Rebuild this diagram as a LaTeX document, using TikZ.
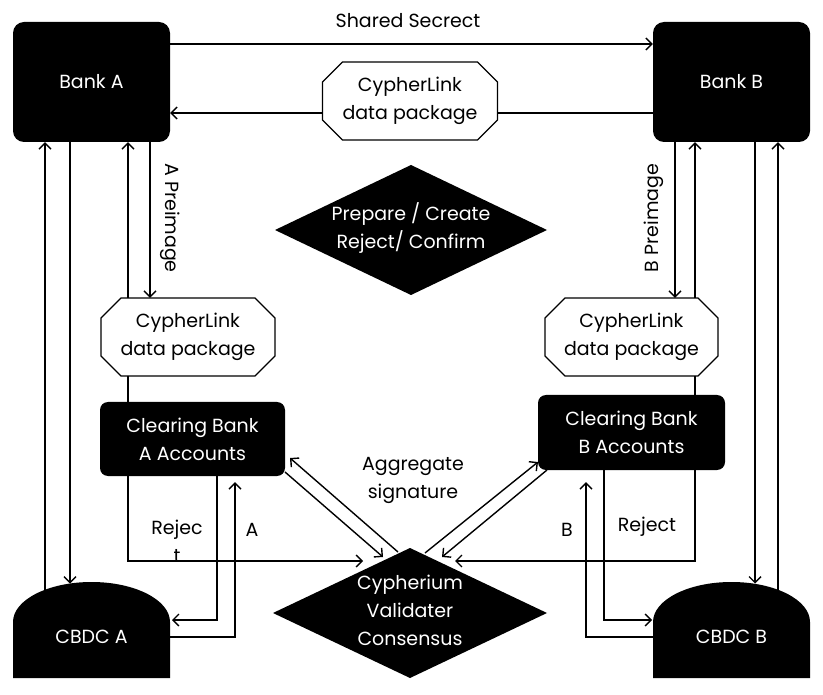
\documentclass[tikz,border=0pt]{standalone}
\usepackage{fontspec}
\setmainfont{Poppins}
\usetikzlibrary{arrows.meta,calc}
\newcommand{\octat}[4]{% center x, center y, half width, half height
  \draw[line width=1.3pt,fill=white] (#1-#3+20,#2-#4) -- (#1+#3-20,#2-#4) -- (#1+#3,#2-#4+20) -- (#1+#3,#2+#4-20)
  -- (#1+#3-20,#2+#4) -- (#1-#3+20,#2+#4) -- (#1-#3,#2+#4-20) -- (#1-#3,#2-#4+20) -- cycle;}
\begin{document}
\begin{tikzpicture}[x=1pt,y=-1pt,
  font=\fontsize{19}{28}\selectfont,
  arr/.style={-{Straight Barb[length=6pt,width=12pt]}, line width=1.4pt},
  ln/.style={line width=1.4pt},
  bank/.style={fill=black, text=white, rounded corners=11pt, minimum width=157pt, minimum height=120pt, inner sep=0},
  clr/.style={fill=black, text=white, rounded corners=8pt, align=center, inner sep=0},
  pkg/.style={align=center, inner sep=0},
  lbl/.style={inner sep=0, align=center},
  wlbl/.style={inner sep=0, align=center, text=white}]
\fill[white] (0,0) rectangle (823,695);
\useasboundingbox (0,0) rectangle (823,695);

% main nodes
\node[bank] (bankA) at (91.5,82) {Bank A};
\node[bank] (bankB) at (731.5,82) {Bank B};
\node[lbl] (ss) at (408,21) {Shared Secrect};
\octat{410}{101}{87.5}{39}
\node[pkg, minimum width=175pt, minimum height=78pt] (pkgT) at (410,101) {CypherLink\\data package};
\octat{188}{337}{87}{39}
\node[pkg, minimum width=174pt, minimum height=78pt] (pkgA) at (188,337) {CypherLink\\data package};
\octat{631.5}{337}{86.5}{39}
\node[pkg, minimum width=173pt, minimum height=78pt] (pkgB) at (631.5,337) {CypherLink\\data package};
\node[clr, minimum width=185pt, minimum height=74pt] (clrA) at (192.5,439) {Clearing Bank\\A Accounts};
\node[clr, minimum width=187pt, minimum height=75pt] (clrB) at (631.5,432.5) {Clearing Bank\\B Accounts};

% diamonds
\fill (275,230) -- (411,165) -- (547,230) -- (411,295) -- cycle;
\node[wlbl] (prep) at (411,228) {Prepare / Create\\Reject/ Confirm};
\fill (273,613) -- (410,548) -- (547,613) -- (410,678) -- cycle;
\node[wlbl] (cyp) at (410,610) {Cypherium\\Validater\\Consensus};

% CBDC shapes
\fill (13,678) -- (13,622) .. controls (13,599.9) and (48.1,582) .. (91.5,582)
  .. controls (134.9,582) and (170,599.9) .. (170,622) -- (170,678) -- cycle;
\node[wlbl] (cbdcA) at (91.5,637) {CBDC A};
\fill (653,678) -- (653,622) .. controls (653,599.9) and (688.1,582) .. (731.5,582)
  .. controls (774.9,582) and (810,599.9) .. (810,622) -- (810,678) -- cycle;
\node[wlbl] (cbdcB) at (731.5,637) {CBDC B};

% coordinates
\coordinate (dA45) at (45,590);
\coordinate (dA70) at (70,583.5);
\coordinate (dB755) at (755,583.5);
\coordinate (dB778) at (778,590);
\coordinate (cypL) at (363,561);
\coordinate (cypR) at (455,561);
\coordinate (cAr1) at (172,620);
\coordinate (cAr2) at (170,637);
\coordinate (cBl1) at (652,620);
\coordinate (cBl2) at (653,637);
\coordinate (a1s) at (285,472);
\coordinate (a1e) at (383,557);
\coordinate (a2s) at (398,552);
\coordinate (a2e) at (290,458);
\coordinate (b1s) at (547,470);
\coordinate (b1e) at (442,557);
\coordinate (b2s) at (425,553);
\coordinate (b2e) at (538,462);

% top connectors
\draw[arr] ([yshift=38pt]bankA.east) -- ([yshift=38pt]bankB.west);
\draw[arr] ([yshift=-12pt]pkgT.west) -- ([yshift=-12pt]pkgT.west -| bankA.east);
\draw[ln] ([yshift=-12pt]pkgT.east) -- ([yshift=-12pt]pkgT.east -| bankB.west);

% left column
\draw[arr] (dA45) -- (dA45 |- bankA.south);
\draw[arr] (bankA.south -| dA70) -- (dA70);
\draw[arr] ([xshift=-60pt]pkgA.north) -- ([xshift=-60pt]pkgA.north |- bankA.south);
\draw[arr] ([xshift=-38pt]pkgA.north |- bankA.south) -- ([xshift=-38pt]pkgA.north);
\node[lbl, rotate=-90] (preA) at (170,218) {A Preimage};
\draw[ln] ([xshift=-60pt]pkgA.south) -- ([xshift=-60pt]pkgA.south |- clrA.north);
\draw[arr] ([xshift=-64.5pt]clrA.south) |- (cypL);
\draw[arr] ([xshift=24.5pt]clrA.south) |- (cAr1);
\draw[arr] (cAr2) -| ([xshift=42.5pt,yshift=-6pt]clrA.south);
\node[lbl] (rejA) at (177,541) {Rejec\\t};
\node[lbl] (labA) at (252,530) {A};
\draw[arr] (a1s) -- (a1e);
\draw[arr] (a2s) -- (a2e);
\node[lbl] (agg) at (413,480) {Aggregate\\signature};

% right column
\draw[arr] ([xshift=43.5pt]pkgB.north |- bankB.south) -- ([xshift=43.5pt]pkgB.north);
\draw[arr] ([xshift=63.5pt]pkgB.north) -- ([xshift=63.5pt]pkgB.north |- bankB.south);
\node[lbl, rotate=90] (preB) at (654,218) {B Preimage};
\draw[arr] (bankB.south -| dB755) -- (dB755);
\draw[arr] (dB778) -- (dB778 |- bankB.south);
\draw[ln] ([xshift=63.5pt]pkgB.south) -- ([xshift=63.5pt]pkgB.south |- clrB.north);
\draw[arr] ([xshift=63.5pt]clrB.south) |- (cypR);
\draw[arr] ([xshift=-27.5pt]clrB.south) |- (cBl1);
\draw[arr] (cBl2) -| ([xshift=-45.5pt,yshift=-12pt]clrB.south);
\node[lbl] (labB) at (567,530) {B};
\node[lbl] (rejB) at (647,527) {Reject};
\draw[arr] (b1s) -- (b1e);
\draw[arr] (b2s) -- (b2e);
\end{tikzpicture}
\end{document}
